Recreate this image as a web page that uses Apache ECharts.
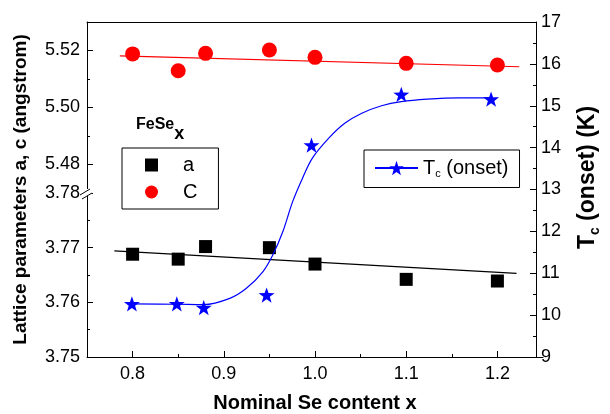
<!DOCTYPE html>
<html><head><meta charset="utf-8">
<script src="https://cdn.jsdelivr.net/npm/echarts@6/dist/echarts.min.js"></script>
<style>html,body{margin:0;padding:0;background:#fff}#c{width:610px;height:414px}</style>
</head><body><div id="c"></div>
<script>
// ---- data ----
const xVals  = [0.80, 0.85, 0.88, 0.95, 1.00, 1.10, 1.20];
const aVals  = [3.7688, 3.7679, 3.7702, 3.7700, 3.7670, 3.7642, 3.7639];
const cVals  = [5.5188, 5.5129, 5.5190, 5.5202, 5.5176, 5.5155, 5.5149];
const tcVals = [10.27, 10.27, 10.18, 10.48, 14.06, 15.27, 15.16];
const aFitX = [0.780, 1.221];
const aFitY = [3.7694, 3.7653];
const cFitX = [0.786, 1.224];
const cFitY = [5.5181, 5.5143];
const tcCurveX = [0.80, 0.85, 0.88, 0.909, 0.9275, 0.946, 0.957, 0.968, 0.979, 0.990, 1.001, 1.019, 1.037, 1.056, 1.078, 1.100, 1.129, 1.165, 1.200];
const tcCurveY = [10.27, 10.26, 10.25, 10.40, 10.64, 11.04, 11.44, 11.99, 12.71, 13.27, 13.75, 14.22, 14.58, 14.82, 15.00, 15.10, 15.16, 15.19, 15.19];
const xMajorTicks = [0.8, 0.9, 1.0, 1.1, 1.2];
const xMinorTicks = [0.85, 0.95, 1.05, 1.15];
const cMajorTicks = [5.48, 5.50, 5.52];
const cMinorTicks = [5.49, 5.51];
const xTitle = 'Nominal Se content x';
const leftTitle = 'Lattice parameters a, c (angstrom)';

// ---- chart ----
const F = 'Liberation Sans, Arial, Helvetica, sans-serif';
const STAR = 'path://M0,-10 L2.35,-3.24 L9.51,-3.09 L3.8,1.24 L5.88,8.09 L0,4 L-5.88,8.09 L-3.8,1.24 L-9.51,-3.09 L-2.35,-3.24 Z';
const zip = (xs, ys) => xs.map((x, i) => [x, ys[i]]);
const line = {show: true, onZero: false, lineStyle: {color: '#000', width: 1}};
const noSplit = {show: false};
const lbl = {color: '#000', fontFamily: F, fontSize: 18};
const XMIN = 0.75, XMAX = 1.25;

const chart = echarts.init(document.getElementById('c'), null, {renderer: 'canvas'});
chart.setOption({
  backgroundColor: '#fff',
  animation: false,
  title: {
    text: '{b|FeSe}{s|x}', left: 136, top: 107, padding: 0,
    textStyle: {rich: {
      b: {fontFamily: F, fontSize: 16, fontWeight: 'bold', color: '#000'},
      s: {fontFamily: F, fontSize: 18, fontWeight: 'bold', color: '#000', padding: [18, 0, 0, 0]}
    }}
  },
  grid: [
    {left: 87, right: 67, top: 193, bottom: 57},
    {left: 87, right: 67, top: 22, bottom: 221},
    {left: 87, right: 67, top: 22, bottom: 57}
  ],
  legend: [
    {
      data: [{name: 'a', icon: 'rect'}, {name: 'C', icon: 'circle'}],
      orient: 'vertical', left: 122, top: 148,
      itemWidth: 13, itemHeight: 13, itemGap: 7,
      borderColor: '#000', borderWidth: 1, borderRadius: 0,
      padding: [7, 21, 7, 23], selectedMode: false,
      textStyle: {fontFamily: F, fontSize: 20, color: '#000', padding: [0, 0, 0, 20], lineHeight: 20}
    },
    {
      data: ['Tc'], left: 364, top: 150,
      itemWidth: 43, itemHeight: 18,
      borderColor: '#000', borderWidth: 1, borderRadius: 0,
      padding: [8, 11, 8, 10], selectedMode: false,
      formatter: () => '{t|T}{s|c}{t| (onset)}',
      textStyle: {fontFamily: F, fontSize: 20, color: '#000', rich: {
        t: {fontFamily: F, fontSize: 20, color: '#000'},
        s: {fontFamily: F, fontSize: 11, color: '#000', padding: [12, 0, 0, 0]}
      }}
    }
  ],
  xAxis: [
    { // 0 lower main
      type: 'value', gridIndex: 0, position: 'bottom', min: XMIN, max: XMAX,
      axisLine: line, splitLine: noSplit,
      axisTick: {show: true, inside: true, length: 6, customValues: xMajorTicks, lineStyle: {color: '#000'}},
      axisLabel: Object.assign({margin: 8, customValues: xMajorTicks, formatter: v => v.toFixed(1)}, lbl),
      name: xTitle, nameLocation: 'middle', nameGap: 36,
      nameTextStyle: {fontFamily: F, fontSize: 20, fontWeight: 'bold', color: '#000'}
    },
    { // 1 upper hidden
      type: 'value', gridIndex: 1, min: XMIN, max: XMAX, show: false, splitLine: noSplit
    },
    { // 2 full frame top
      type: 'value', gridIndex: 2, position: 'top', min: XMIN, max: XMAX,
      axisLine: line, axisTick: {show: false}, axisLabel: {show: false}, splitLine: noSplit
    },
    { // 3 lower minor ticks
      type: 'value', gridIndex: 0, position: 'bottom', min: XMIN, max: XMAX,
      axisLine: {show: false}, axisLabel: {show: false}, splitLine: noSplit,
      axisTick: {show: true, inside: true, length: 3, customValues: xMinorTicks, lineStyle: {color: '#000'}}
    }
  ],
  yAxis: [
    { // 0 lower a-axis
      type: 'value', gridIndex: 0, position: 'left', min: 3.75, max: 3.78, interval: 0.01,
      axisLine: line, splitLine: noSplit,
      axisTick: {show: true, inside: true, length: 6, lineStyle: {color: '#000'}},
      minorTick: {show: true, splitNumber: 2, length: 3, lineStyle: {color: '#000'}},
      axisLabel: Object.assign({margin: 7, formatter: v => v.toFixed(2)}, lbl)
    },
    { // 1 upper c-axis
      type: 'value', gridIndex: 1, position: 'left', min: 5.47, max: 5.53,
      axisLine: line, splitLine: noSplit,
      axisTick: {show: true, inside: true, length: 6, customValues: cMajorTicks, lineStyle: {color: '#000'}},
      axisLabel: Object.assign({margin: 7, customValues: cMajorTicks, formatter: v => v.toFixed(2)}, lbl)
    },
    { // 2 upper minor ticks
      type: 'value', gridIndex: 1, position: 'left', min: 5.47, max: 5.53,
      axisLine: {show: false}, axisLabel: {show: false}, splitLine: noSplit,
      axisTick: {show: true, inside: true, length: 3, customValues: cMinorTicks, lineStyle: {color: '#000'}}
    },
    { // 3 right Tc
      type: 'value', gridIndex: 2, position: 'right', min: 9, max: 17, interval: 1,
      axisLine: line, splitLine: noSplit,
      axisTick: {show: true, inside: true, length: 6, lineStyle: {color: '#000'}},
      minorTick: {show: true, splitNumber: 2, length: 3, lineStyle: {color: '#000'}},
      axisLabel: Object.assign({margin: 5}, lbl),
      name: '{t|T}{s|c}{t| (onset) (K)}', nameLocation: 'middle', nameGap: 38, nameRotate: 90,
      nameTextStyle: {padding: [0, 0, 0, 24], rich: {
        t: {fontFamily: F, fontSize: 23, fontWeight: 'bold', color: '#000'},
        s: {fontFamily: F, fontSize: 14, fontWeight: 'bold', color: '#000', padding: [14, 0, 0, 0]}
      }}
    },
    { // 4 dummy for left title
      type: 'value', gridIndex: 2, position: 'left', min: 0, max: 1,
      axisLine: {show: false}, axisTick: {show: false}, axisLabel: {show: false}, splitLine: noSplit,
      name: leftTitle, nameLocation: 'middle', nameGap: 57,
      nameTextStyle: {fontFamily: F, fontSize: 19, fontWeight: 'bold', color: '#000'}
    }
  ],
  graphic: [
    {type: 'rect', shape: {x: 84, y: 189, width: 8, height: 7}, style: {fill: '#fff'}, z: 100},
    {type: 'line', shape: {x1: 80, y1: 195, x2: 90, y2: 189}, style: {stroke: '#000', lineWidth: 1}, z: 101},
    {type: 'line', shape: {x1: 82, y1: 199, x2: 92, y2: 193}, style: {stroke: '#000', lineWidth: 1}, z: 101}
  ],
  series: [
    {name: 'aFit', type: 'line', xAxisIndex: 0, yAxisIndex: 0, data: zip(aFitX, aFitY),
     showSymbol: false, symbol: 'none', lineStyle: {color: '#000', width: 1.2}, silent: true, z: 2},
    {name: 'a', type: 'scatter', xAxisIndex: 0, yAxisIndex: 0, data: zip(xVals, aVals),
     symbol: 'rect', symbolSize: 13, itemStyle: {color: '#000', opacity: 1}, z: 3},
    {name: 'cFit', type: 'line', xAxisIndex: 1, yAxisIndex: 1, data: zip(cFitX, cFitY),
     showSymbol: false, symbol: 'none', lineStyle: {color: '#ff0000', width: 1.2}, silent: true, z: 2},
    {name: 'C', type: 'scatter', xAxisIndex: 1, yAxisIndex: 1, data: zip(xVals, cVals),
     symbol: 'circle', symbolSize: 15, itemStyle: {color: '#ff0000', opacity: 1}, z: 3},
    {name: 'Tc', type: 'line', xAxisIndex: 2, yAxisIndex: 3, data: zip(tcCurveX, tcCurveY),
     smooth: 0.35, showSymbol: false, symbol: STAR, symbolSize: 15,
     lineStyle: {color: '#0000ff', width: 1.2}, itemStyle: {color: '#0000ff'}, z: 4},
    {name: 'TcPts', type: 'scatter', xAxisIndex: 2, yAxisIndex: 3, data: zip(xVals, tcVals),
     symbol: STAR, symbolSize: 16, symbolKeepAspect: true, itemStyle: {color: '#0000ff', opacity: 1}, z: 5}
  ]
});
</script>
</body></html>
